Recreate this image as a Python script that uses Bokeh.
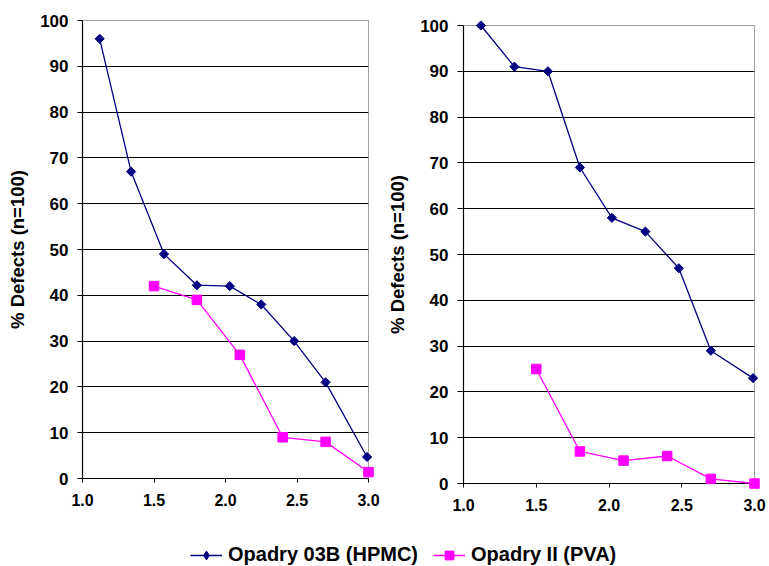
import numpy as np
from bokeh.plotting import figure
from bokeh.layouts import column, row
from bokeh.models import (Range1d, SingleIntervalTicker, NumeralTickFormatter,
                          Legend, LegendItem, Spacer)
from bokeh.embed import file_html
from bokeh.resources import INLINE

# ---------------- data ----------------
series_names = ["Opadry 03B (HPMC)", "Opadry II (PVA)"]
y_label = "% Defects (n=100)"

left_hpmc_x = [1.12, 1.34, 1.57, 1.80, 2.03, 2.25, 2.48, 2.70, 2.99]
left_hpmc_y = [96, 67, 49, 42.2, 42, 38, 30, 21, 4.7]
left_pva_x = [1.50, 1.80, 2.10, 2.40, 2.70, 3.00]
left_pva_y = [42, 39, 27, 9, 8, 1.4]

right_hpmc_x = [1.12, 1.35, 1.58, 1.80, 2.02, 2.25, 2.48, 2.70, 2.99]
right_hpmc_y = [100, 91, 90, 69, 58, 55, 47, 29, 23]
right_pva_x = [1.50, 1.80, 2.10, 2.40, 2.70, 3.00]
right_pva_y = [25, 7, 5, 6, 1, 0]

FONT = "Liberation Sans"
NAVY = "#000080"
MAGENTA = "#FF00FF"


def panel(width, b_left, b_right, hx, hy, px, py, tick_out):
    p = figure(width=width, height=515, x_range=Range1d(1.0, 3.0), y_range=Range1d(0, 100),
               output_backend="svg", toolbar_location=None,
               min_border_left=b_left, min_border_right=b_right,
               min_border_top=20, min_border_bottom=37)
    p.background_fill_color = "white"
    p.border_fill_color = "white"
    p.outline_line_color = "#a0a0a0"
    p.outline_line_width = 1

    p.xgrid.visible = False
    p.ygrid.grid_line_color = "#000000"
    p.ygrid.grid_line_width = 1

    p.xaxis.ticker = SingleIntervalTicker(interval=0.5)
    p.yaxis.ticker = SingleIntervalTicker(interval=10)
    p.xaxis.formatter = NumeralTickFormatter(format="0.0")
    p.yaxis.formatter = NumeralTickFormatter(format="0")
    for ax in (p.xaxis, p.yaxis):
        ax.axis_line_color = "#000000"
        ax.axis_line_width = 1.2
        ax.major_tick_line_color = "#000000"
        ax.major_tick_in = 0
        ax.minor_tick_line_color = None
        ax.major_label_text_font = FONT
        ax.major_label_text_font_style = "bold"
        ax.major_label_text_color = "#000000"
    p.xaxis.major_tick_out = 4
    p.yaxis.major_tick_out = tick_out
    p.xaxis.major_label_text_font_size = "16px"
    p.yaxis.major_label_text_font_size = "17px"
    p.xaxis.major_label_standoff = 11
    p.yaxis.major_label_standoff = 9

    p.yaxis.axis_label = y_label
    p.yaxis.axis_label_text_font = FONT
    p.yaxis.axis_label_text_font_size = "18.5px"
    p.yaxis.axis_label_text_font_style = "bold"
    p.yaxis.axis_label_text_color = "#000000"
    p.yaxis.axis_label_standoff = 9

    p.line(hx, hy, line_color=NAVY, line_width=1.3, level="overlay")
    p.scatter(hx, hy, marker="square", angle=np.pi / 4, size=6.5,
              fill_color=NAVY, line_color=NAVY, level="overlay")
    p.line(px, py, line_color=MAGENTA, line_width=1.3, level="overlay")
    p.scatter(px, py, marker="square", size=9.5,
              fill_color=MAGENTA, line_color=MAGENTA, level="overlay")
    return p


p1 = panel(380, 82, 12, left_hpmc_x, left_hpmc_y, left_pva_x, left_pva_y, 5)
p2 = panel(389, 83, 15, right_hpmc_x, right_hpmc_y, right_pva_x, right_pva_y, 6)

# legend strip (renderers are kept outside the visible range; only legend glyphs show)
leg = figure(width=769, height=46, x_range=Range1d(-2, -1), y_range=Range1d(-2, -1),
             output_backend="svg", toolbar_location=None,
             x_axis_location=None, y_axis_location=None,
             min_border_left=0, min_border_right=0, min_border_top=0, min_border_bottom=0)
leg.grid.visible = False
leg.outline_line_color = None
leg.background_fill_color = "white"
leg.border_fill_color = "white"

l1 = leg.line(right_hpmc_x, right_hpmc_y, line_color=NAVY, line_width=1.5)
s1 = leg.scatter(right_hpmc_x, right_hpmc_y, marker="diamond", size=10,
                 fill_color=NAVY, line_color=NAVY)
l2 = leg.line(right_pva_x, right_pva_y, line_color=MAGENTA, line_width=1.5)
s2 = leg.scatter(right_pva_x, right_pva_y, marker="square", size=9.5,
                 fill_color=MAGENTA, line_color=MAGENTA)

legend = Legend(items=[LegendItem(label=series_names[0], renderers=[l1, s1]),
                       LegendItem(label=series_names[1], renderers=[l2, s2])],
                orientation="horizontal", location=(190, 0), padding=0, margin=0,
                spacing=15, glyph_width=32, glyph_height=22, label_standoff=6,
                label_text_font=FONT, label_text_font_size="20px",
                label_text_font_style="bold", label_text_color="#000000",
                border_line_color=None, background_fill_alpha=0)
leg.add_layout(legend, "center")

layout = column(row(p1, column(Spacer(height=5, width=389), p2)), leg)

open("out.html", "w").write(file_html(layout, INLINE))
